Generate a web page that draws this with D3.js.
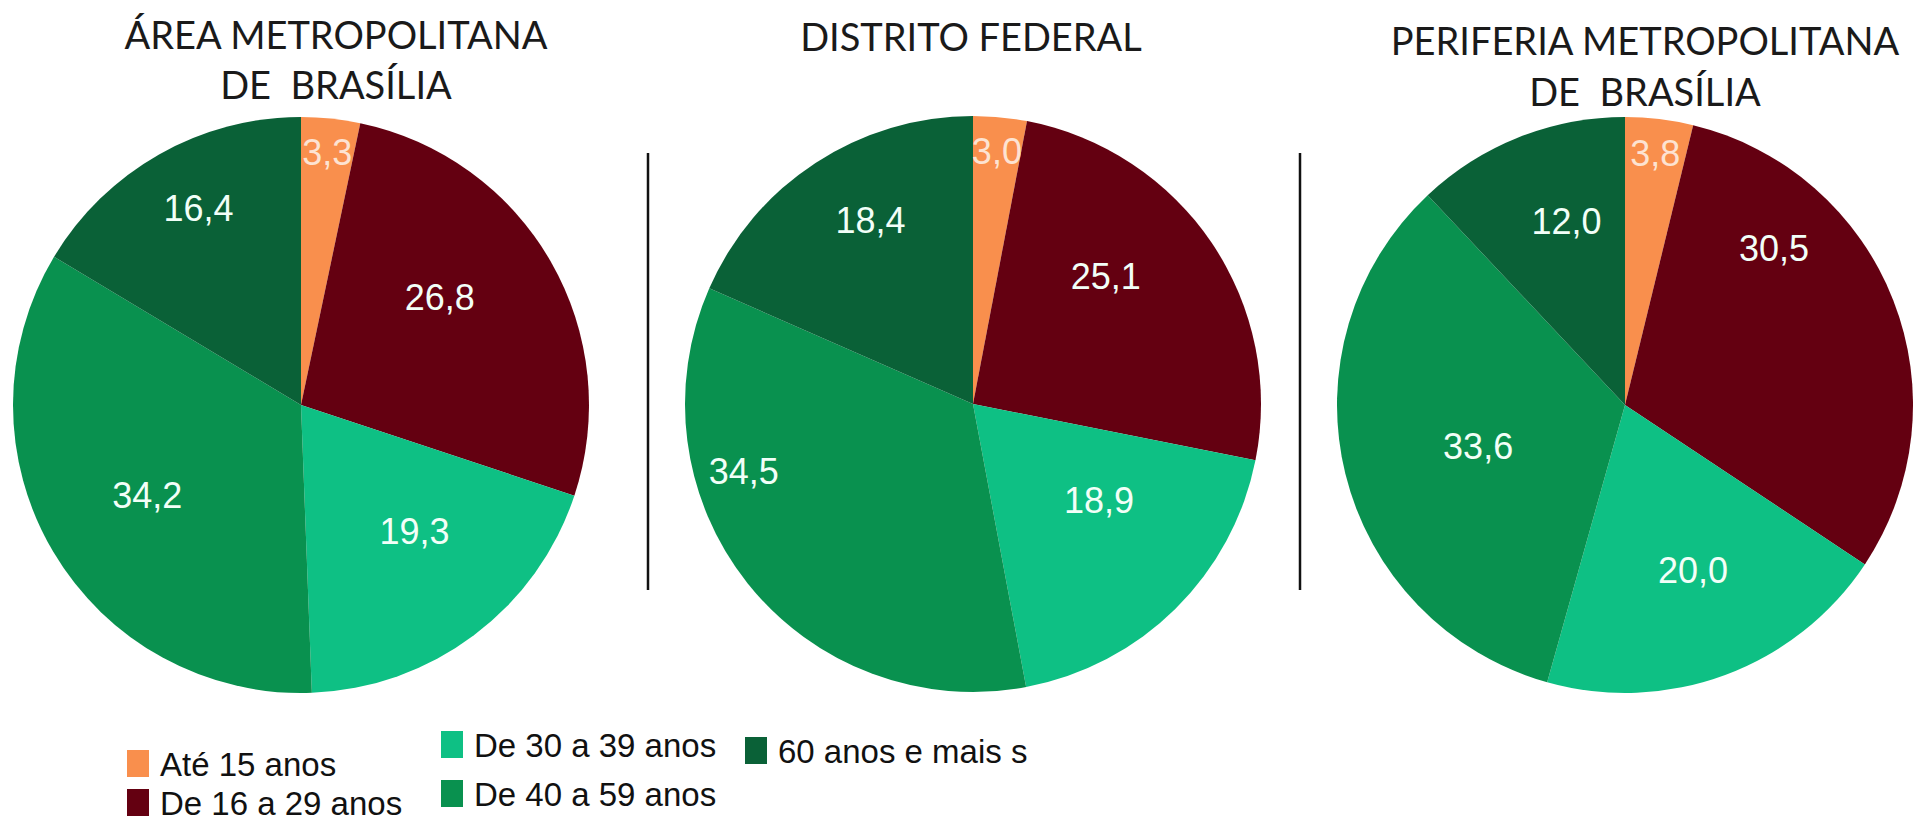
<!DOCTYPE html>
<html>
<head>
<meta charset="utf-8">
<script src="https://cdn.jsdelivr.net/npm/d3@7"></script>
<style>
  html, body { margin: 0; padding: 0; background: #ffffff; }
  svg { display: block; }
</style>
</head>
<body>
<div id="chart"></div>
<script>
// ---------- DATA ----------
const categories = ["Até 15 anos", "De 16 a 29 anos", "De 30 a 39 anos", "De 40 a 59 anos", "60 anos e mais s"];
const regionTitles = [
  ["ÁREA METROPOLITANA", "DE  BRASÍLIA"],
  ["DISTRITO FEDERAL"],
  ["PERIFERIA METROPOLITANA", "DE  BRASÍLIA"]
];
const valuesAreaMetropolitana = [3.3, 26.8, 19.3, 34.2, 16.4];
const valuesDistritoFederal = [3.0, 25.1, 18.9, 34.5, 18.4];
const valuesPeriferia = [3.8, 30.5, 20.0, 33.6, 12.0];
const seriesValues = [valuesAreaMetropolitana, valuesDistritoFederal, valuesPeriferia];

// ---------- STYLE / LAYOUT ----------
const colors = ["#F98F4D", "#640011", "#0EC084", "#09914F", "#0A6137"];
const W = 1914, H = 823;
const pieCenters = [[301, 405], [973, 404], [1625, 405]];
const pieRadius = 288;
const titleX = [336, 971, 1645];
const titleY = [[49, 99], [51], [55, 106]];
// label placement: [angle nudge from slice mid-angle (deg), radius fraction]
const labelPlacement = [
  [[0, 0.88], [-8, 0.61], [-5, 0.59], [0, 0.62], [2, 0.77]],
  [[0, 0.88], [-10, 0.64], [-8, 0.55], [22, 0.83], [4, 0.73]],
  [[0, 0.88], [-25, 0.75], [-2, 0.62], [-2, 0.53], [4, 0.67]]
];
const separators = [648, 1300];
const legendItems = [
  {x: 127, y: 750}, {x: 127, y: 789},
  {x: 441, y: 731}, {x: 441, y: 780},
  {x: 745, y: 737}
];

const svg = d3.select("#chart").append("svg")
  .attr("width", W).attr("height", H)
  .attr("viewBox", `0 0 ${W} ${H}`);

const color = d3.scaleOrdinal().domain(categories).range(colors);
const pie = d3.pie().sort(null).value(d => d.value).startAngle(0).endAngle(2 * Math.PI);
const arc = d3.arc().innerRadius(0).outerRadius(pieRadius);
const fmt = v => d3.format(".1f")(v).replace(".", ",");

seriesValues.forEach((vals, i) => {
  const data = categories.map((c, k) => ({cat: c, value: vals[k], idx: k}));
  const g = svg.append("g").attr("transform", `translate(${pieCenters[i][0]},${pieCenters[i][1]})`);
  const arcs = pie(data);
  g.selectAll("path").data(arcs).join("path")
    .attr("d", arc)
    .attr("fill", d => color(d.data.cat));
  g.selectAll("text").data(arcs).join("text")
    .attr("transform", d => {
      const p = labelPlacement[i][d.data.idx];
      const r = pieRadius * p[1];
      const a = (d.startAngle + d.endAngle) / 2 + p[0] * Math.PI / 180;
      return `translate(${r * Math.sin(a)},${-r * Math.cos(a)})`;
    })
    .attr("text-anchor", "middle")
    .attr("dominant-baseline", "central")
    .attr("font-family", "'Liberation Sans', Arial, sans-serif")
    .attr("font-size", 36)
    .attr("fill", d => d.data.idx === 0 ? "#FDE3D2" : "#F2FFF8")
    .text(d => fmt(d.data.value));

  // titles
  regionTitles[i].forEach((line, j) => {
    svg.append("text")
      .attr("x", titleX[i]).attr("y", titleY[i][j])
      .attr("text-anchor", "middle")
      .attr("font-family", "Lato, 'Noto Sans', sans-serif")
      .attr("font-weight", 400)
      .attr("font-size", 38)
      .attr("fill", "#1a1a1a")
      .style("white-space", "pre")
      .text(line);
  });
});

// separators
separators.forEach(x => {
  svg.append("line")
    .attr("x1", x).attr("x2", x)
    .attr("y1", 153).attr("y2", 590)
    .attr("stroke", "#111").attr("stroke-width", 2.5);
});

// legend
const lg = svg.append("g");
categories.forEach((c, k) => {
  const it = legendItems[k];
  lg.append("rect")
    .attr("x", it.x).attr("y", it.y)
    .attr("width", 22).attr("height", 27)
    .attr("fill", color(c));
  lg.append("text")
    .attr("x", it.x + 33).attr("y", it.y + 14)
    .attr("dominant-baseline", "central")
    .attr("font-family", "'Liberation Sans', Arial, sans-serif")
    .attr("font-size", 33)
    .attr("fill", "#111")
    .text(c);
});
</script>
</body>
</html>
